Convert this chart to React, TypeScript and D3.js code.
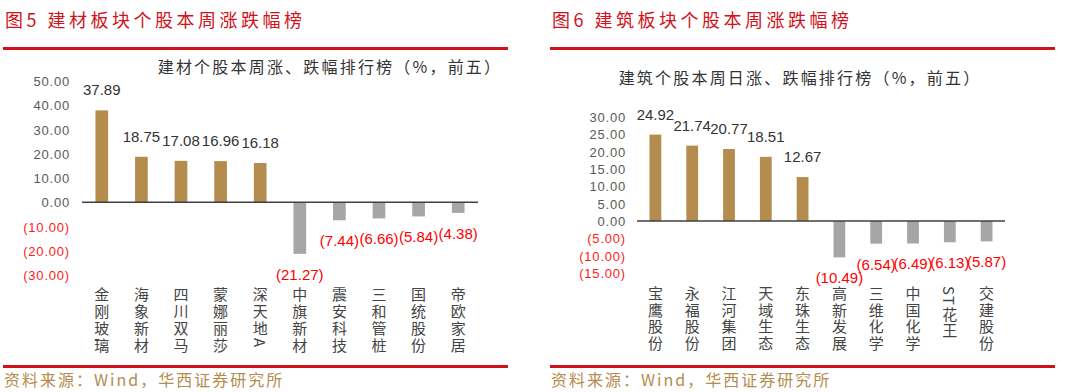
import React from 'react';
import * as d3 from 'd3';

const leftCats = ['金刚玻璃', '海象新材', '四川双马', '蒙娜丽莎', '深天地A', '中旗新材', '震安科技', '三和管桩', '国统股份', '帝欧家居'];
const leftVals = [37.89, 18.75, 17.08, 16.96, 16.18, -21.27, -7.44, -6.66, -5.84, -4.38];
const leftTicks = [-30, -20, -10, 0, 10, 20, 30, 40, 50];

const rightCats = ['宝鹰股份', '永福股份', '江河集团', '天域生态', '东珠生态', '高新发展', '三维化学', '中国化学', 'ST花王', '交建股份'];
const rightVals = [24.92, 21.74, 20.77, 18.51, 12.67, -10.49, -6.54, -6.49, -6.13, -5.87];
const rightTicks = [-15, -10, -5, 0, 5, 10, 15, 20, 25, 30];

const RED = '#d0121b';
const GOLD = '#b38c4e';
const GRAY_BAR = '#a6a6a6';
const CJK = '"Noto Sans CJK SC", sans-serif';
const NUM = '"Liberation Sans", Arial, sans-serif';

const fmt = (v: number) => (v < 0 ? `(${Math.abs(v).toFixed(2)})` : v.toFixed(2));

type PanelProps = {
  ox: number;
  heading: string;
  subtitle: string;
  subX: number;
  subY: number;
  cats: string[];
  vals: number[];
  ticks: number[];
  yDomain: [number, number];
  yRange: [number, number];
  xRange: [number, number];
  tickX: number;
  labelTop: number;
  charGap: number;
};

function Panel(p: PanelProps) {
  const x = d3.scaleBand<string>().domain(p.cats).range(p.xRange).paddingInner(0.68).paddingOuter(0.34);
  const y = d3.scaleLinear().domain(p.yDomain).range(p.yRange);
  const y0 = y(0);
  return (
    <g>
      <text x={p.ox + 5} y={27} fill={RED} fontFamily={CJK} fontSize={18} letterSpacing={3.5}>{p.heading}</text>
      <line x1={p.ox + 3} x2={p.ox + 508} y1={48.5} y2={48.5} stroke={RED} strokeWidth={3} />
      <text x={p.subX} y={p.subY + 6} textAnchor="middle" fill="#333" fontFamily={CJK} fontSize={16} letterSpacing={2.2}>{p.subtitle}</text>
      {p.ticks.map(t => (
        <text key={t} x={p.tickX} y={y(t) + 5} textAnchor="end" fill={t < 0 ? '#ff1a1a' : '#595959'} fontFamily={NUM} fontSize={13} letterSpacing={0.8}>{fmt(t)}</text>
      ))}
      {p.cats.map((c, i) => {
        const v = p.vals[i];
        const bx = x(c)!;
        const top = v >= 0 ? y(v) : y0;
        const h = Math.abs(y(v) - y0);
        const cx = bx + x.bandwidth() / 2;
        return (
          <g key={c}>
            <rect x={bx} y={top} width={x.bandwidth()} height={h} fill={v >= 0 ? GOLD : GRAY_BAR} />
            <text x={cx} y={v >= 0 ? y(v) - 15 : y(v) + 26} textAnchor="middle" fill={v >= 0 ? '#333' : '#ff0000'} fontFamily={NUM} fontSize={15}>{fmt(v)}</text>
            <text x={cx} y={p.labelTop} fill="#444" fontFamily={CJK} fontSize={15} letterSpacing={p.charGap} style={{ writingMode: 'vertical-rl' }}>{c}</text>
          </g>
        );
      })}
      <line x1={p.xRange[0]} x2={p.xRange[1]} y1={y0} y2={y0} stroke="#404040" strokeWidth={1.5} />
      <line x1={p.ox + 3} x2={p.ox + 508} y1={366.5} y2={366.5} stroke={RED} strokeWidth={3} />
      <text x={p.ox + 4} y={386} fill={GOLD} fontFamily={CJK} fontSize={16} letterSpacing={2}>资料来源：Wind，华西证券研究所</text>
    </g>
  );
}

export default function App() {
  return (
    <svg width={1080} height={392} style={{ position: 'absolute', left: 0, top: 0, background: '#fff' }}>
      <rect width={1080} height={392} fill="#fff" />
      <Panel ox={0} heading="图5 建材板块个股本周涨跌幅榜" subtitle="建材个股本周涨、跌幅排行榜（%，前五）" subX={330} subY={67}
        cats={leftCats} vals={leftVals} ticks={leftTicks} yDomain={[-30, 50]} yRange={[275, 81]} xRange={[82, 478]}
        tickX={70} labelTop={287} charGap={2} />
      <Panel ox={547} heading="图6 建筑板块个股本周涨跌幅榜" subtitle="建筑个股本周日涨、跌幅排行榜（%，前五）" subX={800} subY={78}
        cats={rightCats} vals={rightVals} ticks={rightTicks} yDomain={[-15, 30]} yRange={[273, 117]} xRange={[637, 1005]}
        tickX={626} labelTop={286} charGap={1.5} />
    </svg>
  );
}
